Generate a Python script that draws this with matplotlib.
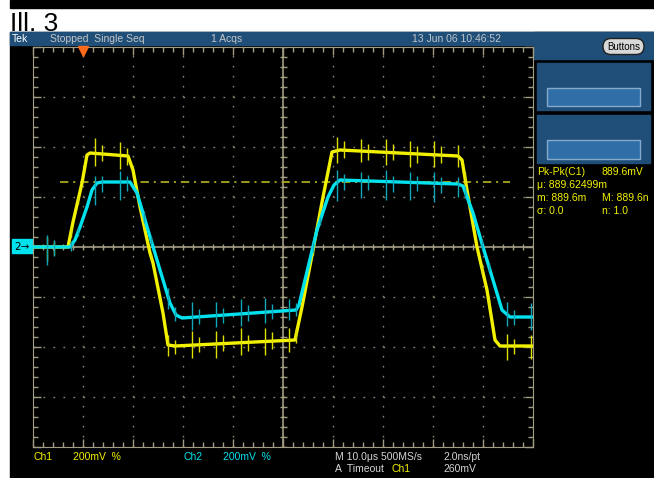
import numpy as np
import matplotlib.pyplot as plt
from matplotlib.patches import Rectangle, FancyBboxPatch

plt.rcParams['lines.scale_dashes'] = False

# Ch1 (yellow) breakpoints: time in us, level in mV (200 mV/div, 10 us/div)
ch1_t = [-10, -3, -2, -0.2, 0.8, 1.4, 9, 10, 11.4, 13.4, 14, 16, 17, 18.4,
         42.4, 43.8, 46, 48, 49.8, 51.4, 75, 75.8, 76.8, 78.8, 80.8, 82.4, 83.4, 90]
ch1_mv = [0, 0, 100, 256, 368, 376, 364, 308, 160, -24, -64, -264, -392, -396,
          -372, -240, -12, 200, 380, 388, 364, 348, 228, 0, -172, -372, -396, -396]

# Ch2 (cyan) breakpoints
ch2_t = [-10, -2.6, -1.6, -0.6, 0.8, 1.8, 2.8, 3.8, 9.4, 10.8, 12, 13, 15.4, 17.4,
         18.6, 19.8, 42.6, 43.2, 44.4, 46.8, 49, 50.2, 51.4, 75, 76, 78, 80, 82,
         83.8, 85.4, 90]
ch2_mv = [0, 0, 28, 80, 160, 228, 256, 260, 260, 216, 136, 68, -92, -224,
          -272, -284, -252, -232, -132, 68, 200, 248, 268, 252, 244, 136, 0, -132,
          -252, -280, -280]

# switching spikes riding on both traces
spike_t = [-7.2, -5.8, -2.4, -1.0, 2.4, 3.8, 7.4, 8.8, 12.2, 13.6, 17.0, 18.4,
           21.8, 23.2, 26.6, 28.0, 31.6, 33.0, 36.4, 37.8, 41.2, 42.6, 46.0, 47.4,
           50.8, 52.2, 55.6, 57.0, 60.6, 62.0, 65.4, 66.8, 70.2, 71.6, 75.0, 76.4,
           79.8, 81.2, 84.8, 86.2, 89.6]
ch1_spike_up = [40, 25, 20, 15, 60, 35, 55, 30, 20, 15, 40, 25, 55, 30, 50, 35, 60,
                30, 55, 35, 50, 30, 20, 15, 55, 35, 50, 30, 55, 35, 50, 30, 55, 35,
                45, 25, 20, 15, 50, 30, 45]
ch1_spike_dn = [55, 30, 20, 15, 50, 30, 55, 35, 20, 15, 45, 30, 50, 30, 55, 30, 50,
                35, 55, 30, 45, 30, 20, 15, 50, 30, 45, 35, 50, 30, 55, 35, 50, 30,
                45, 25, 20, 15, 55, 30, 50]
ch2_spike_up = [50, 30, 20, 15, 40, 25, 45, 25, 20, 15, 35, 25, 60, 30, 55, 30, 60,
                35, 55, 30, 45, 30, 20, 15, 50, 25, 35, 25, 45, 25, 40, 25, 45, 25,
                30, 20, 20, 15, 50, 30, 55]
ch2_spike_dn = [70, 35, 20, 15, 75, 40, 70, 35, 25, 15, 50, 30, 50, 30, 45, 30, 50,
                30, 45, 30, 40, 25, 20, 15, 75, 40, 70, 35, 75, 40, 70, 35, 75, 40,
                50, 25, 20, 15, 45, 30, 50]

trig_t = 0.0
trig_level = 260

header_items = ["Tek", "Stopped  Single Seq", "1 Acqs", "13 Jun 06 10:46:52"]
meas_left = ["Pk-Pk(C1)", "\u03bc: 889.62499m", "m: 889.6m", "\u03c3: 0.0"]
meas_right = ["889.6mV", "", "M: 889.6n", "n: 1.0"]

YEL = '#f2f200'
CYN = '#00e2ee'
GRAT = '#a39c84'
BLUE = '#1f4e78'
FONT = ['Liberation Sans', 'DejaVu Sans']
FS = 7.5

W, H = 654, 478
fig = plt.figure(figsize=(W / 100, H / 100), dpi=100, facecolor='white')

# screen furniture, in pixel coordinates
bg = fig.add_axes([0, 0, 1, 1])
bg.set_xlim(0, W)
bg.set_ylim(H, 0)
bg.axis('off')
bg.add_patch(Rectangle((10, 0), W - 10, 8, color='black'))
bg.add_patch(Rectangle((10, 32), W - 10, H - 32, color='black'))
bg.add_patch(Rectangle((10, 32), W - 10, 13, color=BLUE))
bg.add_patch(Rectangle((534, 32), W - 534, 27, color=BLUE))
bg.text(10, 30.5, "Ill. 3", fontsize=19, family='Liberation Sans', va='baseline')

hx = [12, 50, 211, 412]
hc = ['white', '#c6c6c6', '#c6c6c6', '#c0c6cc']
for x, s, c in zip(hx, header_items, hc):
    bg.text(x, 39, s, color=c, fontsize=FS, family=FONT, va='center')

bg.add_patch(FancyBboxPatch((603, 38.5), 41, 16,
                            boxstyle='round,pad=0,rounding_size=8',
                            fc='#d8d8d8', ec='#202020', lw=1))
bg.text(623.5, 46.5, "Buttons", fontsize=7, family=FONT, ha='center', va='center')

for y0, h in [(63, 47), (115, 48)]:
    bg.add_patch(Rectangle((537, y0), 113, h, color=BLUE))
    bg.add_patch(Rectangle((547, y0 + 25), 93, h - 29, fc='#2f6ea6', ec='#86aacb', lw=1))

for i, (a, b) in enumerate(zip(meas_left, meas_right)):
    y = 172 + i * 13
    bg.text(537, y, a, color=YEL, fontsize=FS, family=FONT, va='center')
    bg.text(602, y, b, color=YEL, fontsize=FS, family=FONT, va='center')

grey = '#d4d4d4'
bg.text(33, 456.5, "Ch1", color=YEL, fontsize=FS, family=FONT, va='center')
bg.text(73, 456.5, "200mV  %", color=YEL, fontsize=FS, family=FONT, va='center')
bg.text(183, 456.5, "Ch2", color=CYN, fontsize=FS, family=FONT, va='center')
bg.text(223, 456.5, "200mV  %", color=CYN, fontsize=FS, family=FONT, va='center')
bg.text(335, 456.5, "M 10.0\u03bcs 500MS/s", color=grey, fontsize=FS, family=FONT, va='center')
bg.text(443, 456.5, "2.0ns/pt", color=grey, fontsize=FS, family=FONT, va='center')
bg.text(335, 468.5, "A  Timeout", color=grey, fontsize=FS, family=FONT, va='center')
bg.text(391, 468.5, "Ch1", color=YEL, fontsize=FS, family=FONT, va='center')
bg.text(443, 468.5, "260mV", color=grey, fontsize=FS, family=FONT, va='center')

# ch2 ground marker
bg.add_patch(Rectangle((12, 239), 21, 14, color=CYN))
bg.text(22, 246.5, "2\u2192", fontsize=7.5, ha='center', va='center', color='black')

# graticule
ax = fig.add_axes([33 / W, 1 - 447 / H, 500 / W, 400 / H])
ax.set_facecolor('black')
ax.set_xlim(-10, 90)
ax.set_ylim(-800, 800)
ax.set_xticks(np.arange(-10, 91, 10))
ax.set_xticks(np.arange(-10, 91, 2), minor=True)
ax.set_yticks(np.arange(-800, 801, 200))
ax.set_yticks(np.arange(-800, 801, 40), minor=True)
ax.tick_params(which='both', direction='in', top=True, right=True, color=GRAT,
               labelbottom=False, labelleft=False, width=1)
ax.tick_params(which='major', length=6)
ax.tick_params(which='minor', length=3.5)
for sp in ax.spines.values():
    sp.set_color(GRAT)
ax.grid(which='major', color='#8c8670', linestyle=(0, (1.2, 6.0)), lw=1)
ax.axhline(0, color=GRAT, lw=1.2)
ax.axvline(40, color=GRAT, lw=1.2)
ax.vlines(np.arange(-10, 91, 2), -13, 13, color=GRAT, lw=1)
ax.hlines(np.arange(-800, 801, 40), 39.3, 40.7, color=GRAT, lw=1)

# trigger level and position
ax.plot([-4.6, 85.4], [trig_level, trig_level], color='#a8a820', lw=1.3,
        linestyle=(0, (6, 3.5, 1.5, 3.5)))
ax.plot([trig_t], [785], marker='v', ms=7, color='#ff6a1a', clip_on=False, zorder=10)

# traces
b1 = np.interp(spike_t, ch1_t, ch1_mv)
b2 = np.interp(spike_t, ch2_t, ch2_mv)
ax.plot(ch1_t, ch1_mv, color=YEL, lw=2.4, solid_joinstyle='round', zorder=4)
ax.vlines(spike_t, b1 - np.array(ch1_spike_dn), b1 + np.array(ch1_spike_up),
          color='#e0e000', lw=1, zorder=4)
ax.plot(ch2_t, ch2_mv, color=CYN, lw=2.4, solid_joinstyle='round', zorder=5)
ax.vlines(spike_t, b2 - np.array(ch2_spike_dn), b2 + np.array(ch2_spike_up),
          color='#10a8b8', lw=1, zorder=5)

fig.savefig('out.png', dpi=100, facecolor='white')
